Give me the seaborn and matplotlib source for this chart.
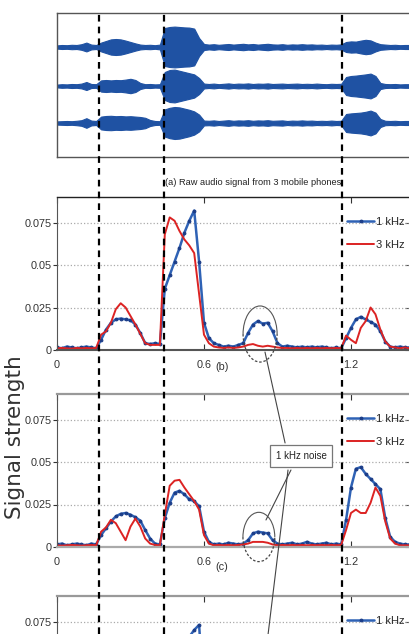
import numpy as np
import matplotlib
matplotlib.use('Agg')
import matplotlib.pyplot as plt
import seaborn as sns
from matplotlib import font_manager
from matplotlib.patches import Arc, ConnectionPatch

# sample grid (s) shared by every trace
sample_step = 0.02
t = np.round(np.arange(73) * sample_step, 2)

# start of each sound event (s), shown as dashed lines
event_starts = [0.171, 0.437, 1.163]

# (a) raw audio envelopes of the 3 phones (arbitrary units)
env_phone1 = [0.08, 0.10, 0.09, 0.11, 0.10, 0.14, 0.22, 0.12, 0.10,
              0.22, 0.30, 0.38, 0.40, 0.38, 0.32, 0.25, 0.18, 0.12, 0.10, 0.11, 0.09, 0.12,
              0.95, 1.00, 1.02, 1.00, 0.98, 0.97, 0.92, 0.45, 0.15,
              0.12, 0.14, 0.11, 0.13, 0.15, 0.12, 0.14, 0.16, 0.13, 0.15, 0.12, 0.14, 0.16, 0.13,
              0.12, 0.14, 0.11, 0.13, 0.12, 0.14, 0.12, 0.13, 0.11, 0.12, 0.10, 0.12, 0.11, 0.13,
              0.25, 0.28, 0.27, 0.32, 0.36, 0.33, 0.22, 0.14, 0.12, 0.10, 0.11, 0.09, 0.10, 0.10]
env_phone2 = [0.07, 0.09, 0.08, 0.10, 0.09, 0.12, 0.20, 0.10, 0.09,
              0.28, 0.30, 0.28, 0.30, 0.29, 0.32, 0.36, 0.30, 0.15, 0.09, 0.10, 0.08, 0.09,
              0.70, 0.80, 0.82, 0.76, 0.70, 0.64, 0.58, 0.40, 0.12,
              0.10, 0.12, 0.09, 0.11, 0.13, 0.10, 0.12, 0.11, 0.13, 0.10, 0.12, 0.11, 0.13, 0.10,
              0.11, 0.12, 0.10, 0.11, 0.12, 0.10, 0.11, 0.10, 0.12, 0.10, 0.09, 0.11, 0.10, 0.11,
              0.45, 0.50, 0.52, 0.55, 0.58, 0.62, 0.50, 0.15, 0.10, 0.09, 0.10, 0.08, 0.09, 0.09]
env_phone3 = [0.08, 0.09, 0.10, 0.09, 0.11, 0.14, 0.24, 0.12, 0.10,
              0.32, 0.35, 0.36, 0.34, 0.35, 0.33, 0.34, 0.32, 0.30, 0.26, 0.15, 0.10, 0.09,
              0.68, 0.76, 0.80, 0.78, 0.72, 0.66, 0.58, 0.42, 0.12,
              0.11, 0.13, 0.10, 0.12, 0.14, 0.11, 0.13, 0.12, 0.14, 0.11, 0.13, 0.12, 0.14, 0.11,
              0.12, 0.13, 0.10, 0.12, 0.11, 0.13, 0.11, 0.12, 0.10, 0.11, 0.10, 0.12, 0.10, 0.11,
              0.45, 0.48, 0.50, 0.52, 0.56, 0.62, 0.52, 0.20, 0.11, 0.10, 0.11, 0.09, 0.10, 0.10]
phone_offsets = [0.0, -1.95, -3.8]

# (b) signal strength
b_1k = [0.0015, 0.001, 0.002, 0.0015, 0.001, 0.0015, 0.002, 0.0015, 0.001,
        0.006, 0.012, 0.016, 0.018, 0.0185, 0.018, 0.0175, 0.015, 0.010, 0.004, 0.0035, 0.004, 0.0035,
        0.036, 0.044, 0.052, 0.060, 0.069, 0.076, 0.082, 0.052, 0.016, 0.007, 0.004, 0.003, 0.002,
        0.0025, 0.002, 0.003,
        0.004, 0.010, 0.015, 0.017, 0.0155, 0.016, 0.011, 0.004, 0.002,
        0.0025, 0.002, 0.0015, 0.002, 0.0015, 0.002, 0.0015, 0.002, 0.0015, 0.001, 0.0015, 0.001,
        0.007, 0.013, 0.018, 0.0195, 0.018, 0.0165, 0.015, 0.011, 0.005, 0.002, 0.0015, 0.002,
        0.0015, 0.0015]
b_3k = [0.001, 0.0012, 0.001, 0.0008, 0.0012, 0.001, 0.0012, 0.001, 0.0012,
        0.009, 0.011, 0.016, 0.024, 0.0275, 0.025, 0.020, 0.015, 0.0095, 0.004, 0.003, 0.003, 0.003,
        0.068, 0.078, 0.076, 0.070, 0.065, 0.0615, 0.057, 0.033, 0.009, 0.004, 0.002, 0.0015, 0.0012,
        0.0015, 0.0012, 0.0015,
        0.002, 0.003, 0.0035, 0.0025, 0.002, 0.0025, 0.002, 0.0015, 0.0012,
        0.0012, 0.001, 0.0012, 0.001, 0.0012, 0.001, 0.0012, 0.001, 0.0012, 0.001, 0.0012, 0.001,
        0.0085, 0.006, 0.004, 0.013, 0.017, 0.025, 0.021, 0.012, 0.005, 0.002, 0.0015, 0.001,
        0.0015, 0.001]

# (c) signal strength
c_1k = [0.0015, 0.002, 0.001, 0.0015, 0.002, 0.0015, 0.001, 0.002, 0.0015,
        0.007, 0.011, 0.015, 0.018, 0.0195, 0.020, 0.019, 0.0175, 0.0155, 0.010, 0.005, 0.002, 0.0015,
        0.017, 0.026, 0.032, 0.033, 0.031, 0.028, 0.027, 0.024, 0.009, 0.003, 0.0015, 0.002, 0.0015,
        0.0025, 0.002, 0.0015,
        0.002, 0.004, 0.008, 0.009, 0.0085, 0.008, 0.004, 0.002, 0.0015,
        0.002, 0.0025, 0.0015, 0.002, 0.003, 0.002, 0.0015, 0.002, 0.0025, 0.0015, 0.002, 0.0015,
        0.016, 0.035, 0.046, 0.047, 0.043, 0.040, 0.037, 0.034, 0.017, 0.006, 0.003, 0.002,
        0.0015, 0.0015]
c_3k = [0.001, 0.0008, 0.001, 0.0012, 0.001, 0.0008, 0.001, 0.0012, 0.001,
        0.009, 0.0115, 0.016, 0.014, 0.009, 0.004, 0.012, 0.0167, 0.012, 0.005, 0.002, 0.0012, 0.001,
        0.019, 0.036, 0.039, 0.0395, 0.035, 0.031, 0.027, 0.022, 0.007, 0.002, 0.001, 0.0012, 0.001,
        0.0012, 0.001, 0.0012,
        0.0015, 0.002, 0.003, 0.003, 0.003, 0.0025, 0.0015, 0.001, 0.0012,
        0.001, 0.0012, 0.001, 0.0012, 0.001, 0.0012, 0.001, 0.0012, 0.001, 0.0012, 0.001, 0.0012,
        0.010, 0.020, 0.022, 0.020, 0.020, 0.026, 0.035, 0.030, 0.015, 0.005, 0.002, 0.001,
        0.001, 0.001]

# (d) only the top of the 1 kHz peak is inside the picture
d_t = [0.50, 0.52, 0.54, 0.56, 0.58, 0.60]
d_1k = [0.058, 0.062, 0.066, 0.070, 0.073, 0.030]

x_ticks = [0, 0.6, 1.2]
x_tick_labels = ['0', '0.6', '1.2']
y_ticks = [0, 0.025, 0.05, 0.075]
y_tick_labels = ['0', '0.025', '0.05', '0.075']


def first_font(names):
    for name in names:
        try:
            font_manager.findfont(font_manager.FontProperties(family=name),
                                  fallback_to_default=False)
            return name
        except ValueError:
            continue
    return 'DejaVu Sans'


sns.set_style('white')
narrow = first_font(['Liberation Sans Narrow', 'Liberation Sans'])
plt.rcParams['font.family'] = [narrow, 'DejaVu Sans']

blue = '#2f62b5'
blue_dark = '#1c3d88'
red = '#dc2323'
wave = '#1f52a3'
W, H = 409, 634
XMAX = 1.445

fig = plt.figure(figsize=(W / 100, H / 100), dpi=100)


def box(top, bottom, left=57, right=411):
    return [left / W, 1 - bottom / H, (right - left) / W, (bottom - top) / H]


ax_a = fig.add_axes(box(13, 157))
ax_b = fig.add_axes(box(197, 350))
ax_c = fig.add_axes(box(394, 547))
ax_d = fig.add_axes(box(596, 749))

# (a) raw audio
for env, off in zip([env_phone1, env_phone2, env_phone3], phone_offsets):
    env = np.array(env)
    ax_a.fill_between(t, off - env, off + env, color=wave, lw=0.8, edgecolor=wave)
    ax_a.axhline(off, color=wave, lw=1.3)
ax_a.set_xlim(0, XMAX)
ax_a.set_ylim(-5.5, 1.7)
ax_a.set_xticks([])
ax_a.set_yticks([])
for s in ax_a.spines.values():
    s.set_color('#555555')
    s.set_linewidth(1.0)
ax_a.annotate('(a) Raw audio signal from 3 mobile phones', xy=(0.80, 0),
              xycoords=('data', 'axes fraction'), xytext=(0, -18.5),
              textcoords='offset points', ha='center', va='center',
              fontsize=6.7, color='#222222')


def signal_panel(ax, tt, one_k, three_k, top_col, bot_col, top_lw, bot_lw,
                 xlabels=x_tick_labels, ylabels=y_tick_labels):
    sns.lineplot(x=tt, y=one_k, ax=ax, color=blue, lw=1.8, marker='.', ms=4,
                 mfc=blue_dark, mec=blue_dark, label='1 kHz', estimator=None)
    if three_k is not None:
        sns.lineplot(x=t, y=three_k, ax=ax, color=red, lw=1.4, label='3 kHz',
                     estimator=None)
    ax.set_xlim(0, XMAX)
    ax.set_ylim(0, 0.09)
    ax.set_xticks(x_ticks)
    ax.set_xticklabels(xlabels)
    ax.set_yticks(y_ticks)
    ax.set_yticklabels(ylabels)
    ax.set_xlabel('')
    ax.set_ylabel('')
    ax.tick_params(axis='x', direction='in', length=4, top=True, bottom=True,
                   pad=7, labelsize=7.8, colors='#333333', width=0.8)
    ax.tick_params(axis='y', direction='out', length=3, left=True, pad=1,
                   labelsize=7.8, colors='#333333', width=0.8)
    sec = ax.secondary_yaxis('right')
    sec.set_yticks(y_ticks)
    sec.tick_params(direction='in', length=4, labelright=False, color='#555555')
    ax.yaxis.grid(True, ls=':', color='#aaaaaa', lw=0.9)
    ax.xaxis.grid(False)
    ax.spines['top'].set_color(top_col)
    ax.spines['top'].set_linewidth(top_lw)
    ax.spines['bottom'].set_color(bot_col)
    ax.spines['bottom'].set_linewidth(bot_lw)
    ax.spines['left'].set_color('#555555')
    ax.legend(loc='upper left', bbox_to_anchor=(0.82, 0.87), frameon=False,
              borderpad=0, borderaxespad=0, handlelength=2.4, handletextpad=0.2,
              labelspacing=1.2, fontsize=8, numpoints=1)


signal_panel(ax_b, t, b_1k, b_3k, '#222222', '#555555', 1.0, 1.5)
signal_panel(ax_c, t, c_1k, c_3k, '#999999', '#aaaaaa', 1.6, 1.6)
# panel (d) runs off the bottom edge: only its top tick label is in view
signal_panel(ax_d, d_t, d_1k, None, '#999999', '#aaaaaa', 1.6, 1.6,
             xlabels=['', '', ''], ylabels=['', '', '', '0.075'])

ax_b.annotate('(b)', xy=(0.673, 0), xycoords=('data', 'axes fraction'),
              xytext=(0, -12.3), textcoords='offset points', ha='center',
              va='center', fontsize=7.8, color='#333333')
ax_c.annotate('(c)', xy=(0.673, 0), xycoords=('data', 'axes fraction'),
              xytext=(0, -14.3), textcoords='offset points', ha='center',
              va='center', fontsize=7.8, color='#333333')

# noise markers
for ax, centre, w, h in [(ax_b, (0.829, 0.0094), 0.139, 0.033),
                         (ax_c, (0.824, 0.0059), 0.130, 0.029)]:
    ax.add_patch(Arc(centre, w, h, theta1=0, theta2=180, color='#555555',
                     lw=0.8, clip_on=False, zorder=5))
    ax.add_patch(Arc(centre, w, h, theta1=180, theta2=360, color='#444444',
                     lw=0.9, ls=(0, (2, 1.5)), clip_on=False, zorder=5))

ax_c.text(0.996, 0.0535, '1 kHz noise', ha='center', va='center', fontsize=7,
          color='#222222', zorder=7,
          bbox=dict(boxstyle='square,pad=0.6', fc='white', ec='#777777', lw=0.9))

for (pa, axa), (pb, axb) in [(((0.849, -0.0012), ax_b), ((0.931, 0.0612), ax_c)),
                             (((0.955, 0.0453), ax_c), ((0.853, 0.0159), ax_c)),
                             (((0.943, 0.0453), ax_c), ((0.829, 0.0288), ax_d))]:
    fig.add_artist(ConnectionPatch(xyA=pa, coordsA=axa.transData, xyB=pb,
                                   coordsB=axb.transData, color='#444444', lw=0.8))

fig.text(15 / W, 1 - 437 / H, 'Signal strength', rotation=90, ha='center',
         va='center', fontsize=15.5, family=['DejaVu Sans'], color='#333333')

# event markers across all panels
ov = fig.add_axes([57 / W, 0, 354 / W, 1])
ov.set_xlim(0, XMAX)
ov.set_ylim(0, 1)
ov.axis('off')
ov.patch.set_alpha(0)
for x in event_starts:
    ov.axvline(x, ymin=0, ymax=1 - 13 / H, color='black', lw=1.6, dashes=(3, 2.3))

fig.savefig('out.png', dpi=100)
